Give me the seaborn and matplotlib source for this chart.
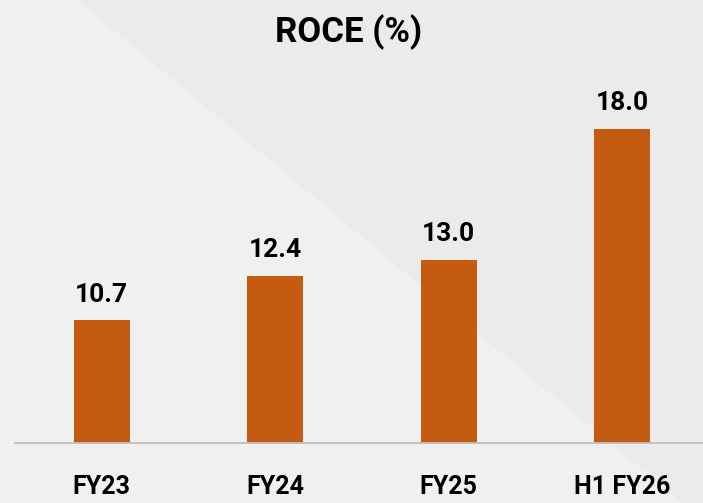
import matplotlib
matplotlib.use('Agg')
import matplotlib.pyplot as plt
from matplotlib.patches import Polygon
import seaborn as sns
import pandas as pd

# Data
categories = ['FY23', 'FY24', 'FY25', 'H1 FY26']
roce = [10.7, 12.4, 13.0, 18.0]
title = 'ROCE (%)'

bar_color = '#C55A11'
bg_color = '#F0F0F0'
axis_color = '#BFBFBF'

sns.set_style('white')
plt.rcParams['font.family'] = ['Roboto', 'DejaVu Sans']

df = pd.DataFrame({'period': categories, 'roce': roce})

fig = plt.figure(figsize=(7.03, 5.03), dpi=100)
fig.patch.set_facecolor(bg_color)

# Background axes for the subtle diagonal watermark shade
bg = fig.add_axes([0, 0, 1, 1], zorder=-1)
bg.set_xlim(0, 703)
bg.set_ylim(503, 0)
bg.axis('off')
bg.add_patch(Polygon([(77, 0), (703, 0), (703, 520)], closed=True,
                     facecolor='#EBEBEB', edgecolor='none'))

ax = fig.add_axes([15 / 703, (503 - 443) / 503, 694 / 703, (443 - 76) / 503], zorder=1)
ax.set_facecolor('none')

sns.barplot(data=df, x='period', y='roce', color=bar_color, width=0.32,
            saturation=1, linewidth=0, ax=ax)

ax.set_xlim(-0.5, 3.5)
ax.set_ylim(6.04, 20)

# Value labels
for i, v in enumerate(roce):
    ax.annotate(f'{v:.1f}', xy=(i, v), xytext=(0, 10), textcoords='offset points',
                ha='center', va='bottom', fontsize=19, fontweight='bold', color='black')

# Axes styling
for side in ['top', 'right', 'left']:
    ax.spines[side].set_visible(False)
ax.spines['bottom'].set_color(axis_color)
ax.spines['bottom'].set_linewidth(1.3)
ax.set_yticks([])
ax.set_xlabel('')
ax.set_ylabel('')
ax.set_xticks(range(len(categories)))
ax.set_xticklabels(categories, fontsize=18, fontweight='bold', color='black')
ax.tick_params(axis='x', which='major', length=0, pad=23)
ax.set_xticks([-0.5, 0.5, 1.5, 2.5, 3.5], minor=True)
ax.tick_params(axis='x', which='minor', length=9, width=1.3, color=axis_color, direction='out')

fig.text(349 / 703, 1 - 32 / 503, title, ha='center', va='center',
         fontsize=25, fontweight='bold', color='black')

fig.savefig('out.png', dpi=100, facecolor=fig.get_facecolor())
